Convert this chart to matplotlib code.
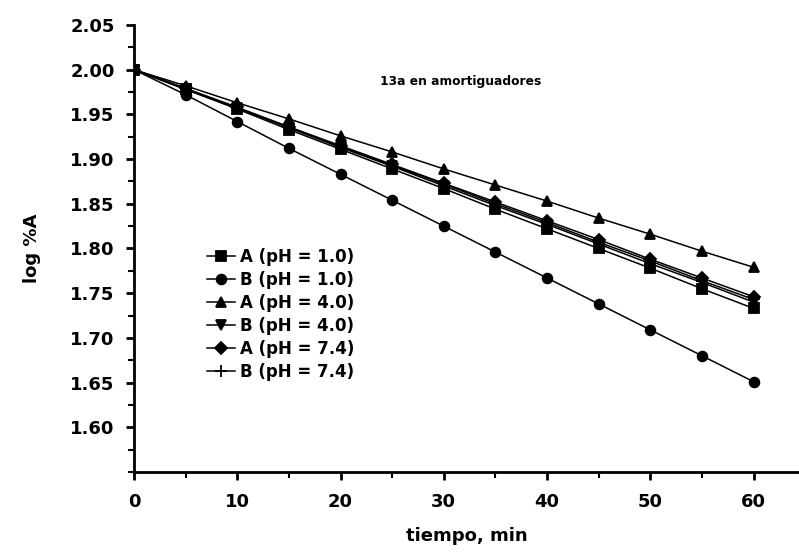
import matplotlib
matplotlib.use('Agg')
import matplotlib.pyplot as plt
from matplotlib.ticker import MultipleLocator, FormatStrFormatter

plt.rcParams['font.family'] = ['DejaVu Sans']
plt.rcParams['font.weight'] = 'bold'

# tiempo, min
t = [0, 5, 10, 15, 20, 25, 30, 35, 40, 45, 50, 55, 60]

# log %A for each series
a_ph10 = [2.000, 1.978, 1.956, 1.933, 1.911, 1.889, 1.867, 1.844, 1.822, 1.800, 1.778, 1.755, 1.733]
b_ph10 = [2.000, 1.972, 1.942, 1.912, 1.883, 1.854, 1.825, 1.796, 1.767, 1.738, 1.709, 1.680, 1.651]
a_ph40 = [2.000, 1.982, 1.963, 1.945, 1.926, 1.908, 1.889, 1.871, 1.853, 1.834, 1.816, 1.797, 1.779]
b_ph40 = [2.000, 1.978, 1.957, 1.935, 1.913, 1.892, 1.870, 1.848, 1.827, 1.805, 1.783, 1.762, 1.740]
a_ph74 = [2.000, 1.979, 1.958, 1.936, 1.915, 1.894, 1.873, 1.852, 1.831, 1.810, 1.788, 1.767, 1.746]
b_ph74 = [2.000, 1.979, 1.957, 1.936, 1.914, 1.893, 1.872, 1.850, 1.829, 1.807, 1.786, 1.764, 1.743]

labels = ['A (pH = 1.0)', 'B (pH = 1.0)', 'A (pH = 4.0)',
          'B (pH = 4.0)', 'A (pH = 7.4)', 'B (pH = 7.4)']
series = [a_ph10, b_ph10, a_ph40, b_ph40, a_ph74, b_ph74]
markers = ['s', 'o', '^', 'v', 'D', '+']
sizes = [7, 7, 7.5, 7.5, 6, 8]

fig = plt.figure(figsize=(7.99, 5.53), dpi=100)
ax = fig.add_axes([0.1677, 0.1465, 0.8323, 0.8083])

for y, lab, m, ms in zip(series, labels, markers, sizes):
    ax.plot(t, y, color='black', lw=1.1, marker=m, markersize=ms,
            markeredgewidth=1.3, label=lab)

ax.set_xlim(0, 64.4)
ax.set_ylim(1.55, 2.05)
ax.xaxis.set_major_locator(MultipleLocator(10))
ax.xaxis.set_minor_locator(MultipleLocator(5))
ax.set_yticks([1.60, 1.65, 1.70, 1.75, 1.80, 1.85, 1.90, 1.95, 2.00, 2.05])
ax.yaxis.set_minor_locator(MultipleLocator(0.025))
ax.yaxis.set_major_formatter(FormatStrFormatter('%.2f'))

for s in ['top', 'right']:
    ax.spines[s].set_visible(False)
for s in ['left', 'bottom']:
    ax.spines[s].set_linewidth(2)

ax.tick_params(which='major', direction='out', length=6, width=2, labelsize=13)
ax.tick_params(axis='x', which='major', pad=9)
ax.tick_params(axis='y', which='major', pad=8)
ax.tick_params(which='minor', direction='out', length=4, width=1.5)
for lb in ax.get_xticklabels() + ax.get_yticklabels():
    lb.set_fontweight('bold')

ax.set_xlabel('tiempo, min', fontsize=13, fontweight='bold', labelpad=12)
ax.set_ylabel('log %A', fontsize=13, fontweight='bold', labelpad=21)

ax.text(31.6, 1.987, '13a en amortiguadores', fontsize=8.8, fontweight='bold',
        ha='center', va='center')

ax.legend(loc='upper left', bbox_to_anchor=(0.087, 0.535), frameon=False,
          handlelength=1.7, handletextpad=0.3, labelspacing=0.3,
          prop={'weight': 'bold', 'size': 12})

fig.savefig('out.png', dpi=100)
